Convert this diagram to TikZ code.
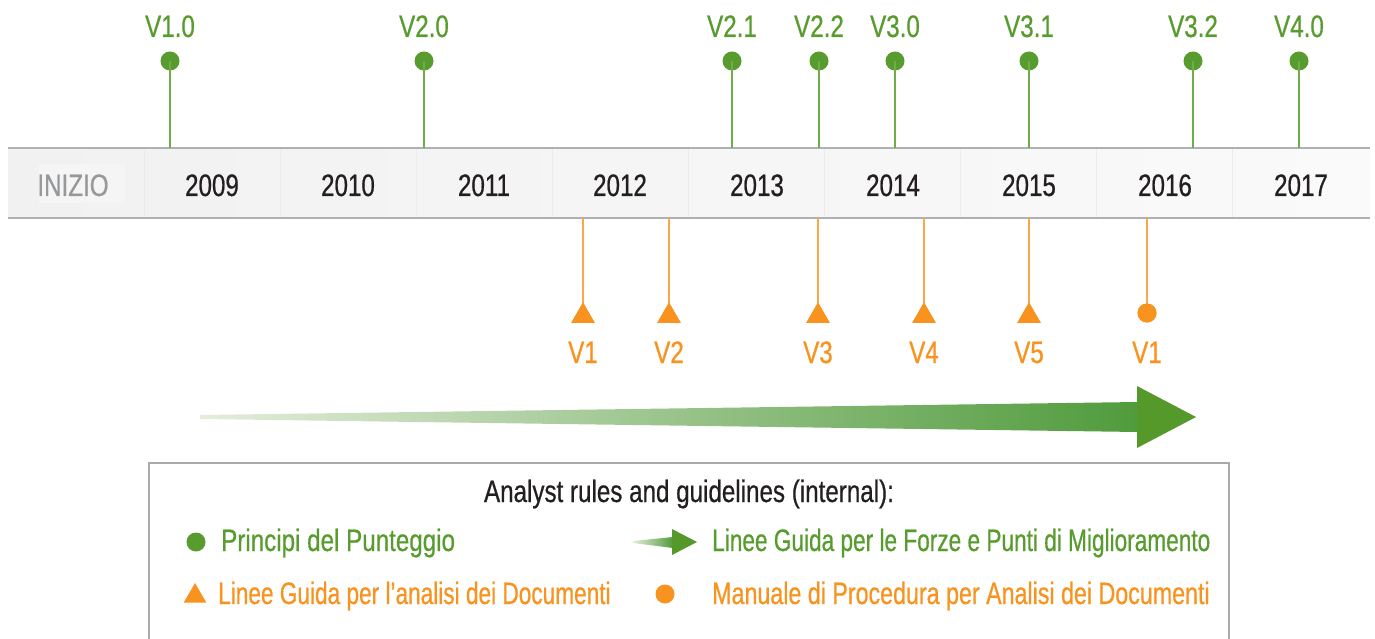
\documentclass[tikz,border=0pt]{standalone}
\usepackage{fontspec}
\setmainfont{Liberation Sans}[FakeStretch=0.78, FakeBold=0.6]
\newfontfamily\narrowf{Liberation Sans}[FakeStretch=0.73, FakeBold=0.6]
\newfontfamily\midf{Liberation Sans}[FakeStretch=0.75, FakeBold=0.6]
\usetikzlibrary{shapes.geometric}
\definecolor{gdot}{RGB}{88,155,46}
\definecolor{gline}{RGB}{112,172,74}
\definecolor{org}{RGB}{247,147,30}
\definecolor{oline}{RGB}{249,170,72}
\definecolor{ytext}{RGB}{35,31,32}
\definecolor{barline}{RGB}{176,176,178}
\definecolor{barL}{RGB}{241,241,242}
\definecolor{barM}{RGB}{232,232,234}
\definecolor{barR}{RGB}{250,250,250}
\definecolor{sepc}{RGB}{236,236,238}
\definecolor{inizbg}{RGB}{245,245,246}
\definecolor{inizt}{RGB}{150,152,154}
\definecolor{arrL}{RGB}{228,237,220}
\definecolor{arrR}{RGB}{80,155,60}
\definecolor{arrH}{RGB}{86,153,43}
\definecolor{boxc}{RGB}{170,170,172}
\tikzset{
  txt/.style={inner sep=0pt, font=\fontsize{31}{36}\selectfont},
  ver/.style={txt, text=gdot, anchor=base},
  overs/.style={txt, text=org, anchor=base},
  yr/.style={txt, text=ytext, anchor=base},
  gpin/.style={circle, fill=gdot, inner sep=0pt, minimum size=19pt},
  opin/.style={circle, fill=org, inner sep=0pt, minimum size=19pt},
  otri/.style={regular polygon, regular polygon sides=3, fill=org, inner sep=0pt, minimum size=27pt},
  gstem/.style={draw=gline, line width=1.6pt},
  ostem/.style={draw=oline, line width=1.6pt},
  legtxt/.style={txt, anchor=base west},
}
\begin{document}
\begin{tikzpicture}[x=1pt,y=-1pt]
\useasboundingbox (0,0) rectangle (1375,639);
% timeline bar
\shade[left color=barL, middle color=barM, right color=barR] (8,148) rectangle (1370,218);
\foreach \k in {0,...,8} {\draw[sepc, line width=1pt] ({144+136*\k},149) -- ({144+136*\k},217);}
\draw[barline, line width=2pt] (8,148) -- (1370,148);
\draw[barline, line width=2pt] (8,218) -- (1370,218);
\fill[inizbg] (39,164) rectangle (125,203);
\node[txt, text=inizt, anchor=base] (iniz) at (73,196) {INIZIO};
\foreach \y/\x in {2009/212,2010/348,2011/484,2012/620,2013/757,2014/893,2015/1029,2016/1165,2017/1301}
  {\node[yr] (y\y) at (\x,196) {\y};}
% green pins
\foreach \n/\x/\t in {a/170/V1.0,b/424/V2.0,c/732/V2.1,d/819/V2.2,e/895/V3.0,f/1029/V3.1,g/1193/V3.2,h/1299/V4.0} {
  \coordinate (gb\n) at (\x,148);
  \node[gpin] (gp\n) at (\x,61) {};
  \draw[gstem] (gp\n.center) -- (gb\n);
  \node[ver] (gl\n) at (\x,37) {\t};
}
% orange pins (triangles)
\foreach \n/\x/\t in {a/583/V1,b/669/V2,c/818/V3,d/924/V4,e/1029/V5} {
  \coordinate (ob\n) at (\x,218);
  \node[otri] (op\n) at (\x,316) {};
  \draw[ostem] (ob\n) -- (op\n.center);
  \node[otri] at (\x,316) {};
  \node[overs] (ol\n) at (\x,363) {\t};
}
\coordinate (obf) at (1147,218);
\node[opin] (opf) at (1147,313) {};
\draw[ostem] (obf) -- (opf.center);
\node[opin] at (1147,313) {};
\node[overs] (olf) at (1147,363) {V1};
% big arrow
\shade[left color=arrL, right color=arrR] (200,415) -- (1138,402) -- (1138,432) -- (200,419) -- cycle;
\fill[arrH] (1137,386) -- (1196,417) -- (1137,448) -- cycle;
% legend box
\draw[boxc, line width=1.5pt] (149,640) -- (149,463) -- (1229,463) -- (1229,640);
\node[txt, text=ytext, anchor=base] (ltitle) at (689,502) {Analyst rules and guidelines (internal):};
\node[gpin] (lg1) at (196,542) {};
\node[legtxt, text=gdot] (lt1) at (221,551) {Principi del Punteggio};
\node[otri, minimum size=26pt] (lg2) at (195,596) {};
\node[legtxt, text=org, font=\fontsize{31}{36}\narrowf] (lt2) at (218,604) {Linee Guida per l’analisi dei Documenti};
\shade[left color=arrL, right color=arrR] (633,541) -- (673,537) -- (673,548) -- (633,543) -- cycle;
\fill[arrH] (672,529) -- (697,542) -- (672,555) -- cycle;
\node[legtxt, text=gdot, font=\fontsize{31}{36}\narrowf] (lt3) at (712,551) {Linee Guida per le Forze e Punti di Miglioramento};
\node[opin] (lg4) at (665,594) {};
\node[legtxt, text=org, font=\fontsize{31}{36}\midf] (lt4) at (712,604) {Manuale di Procedura per Analisi dei Documenti};
\end{tikzpicture}
\end{document}
